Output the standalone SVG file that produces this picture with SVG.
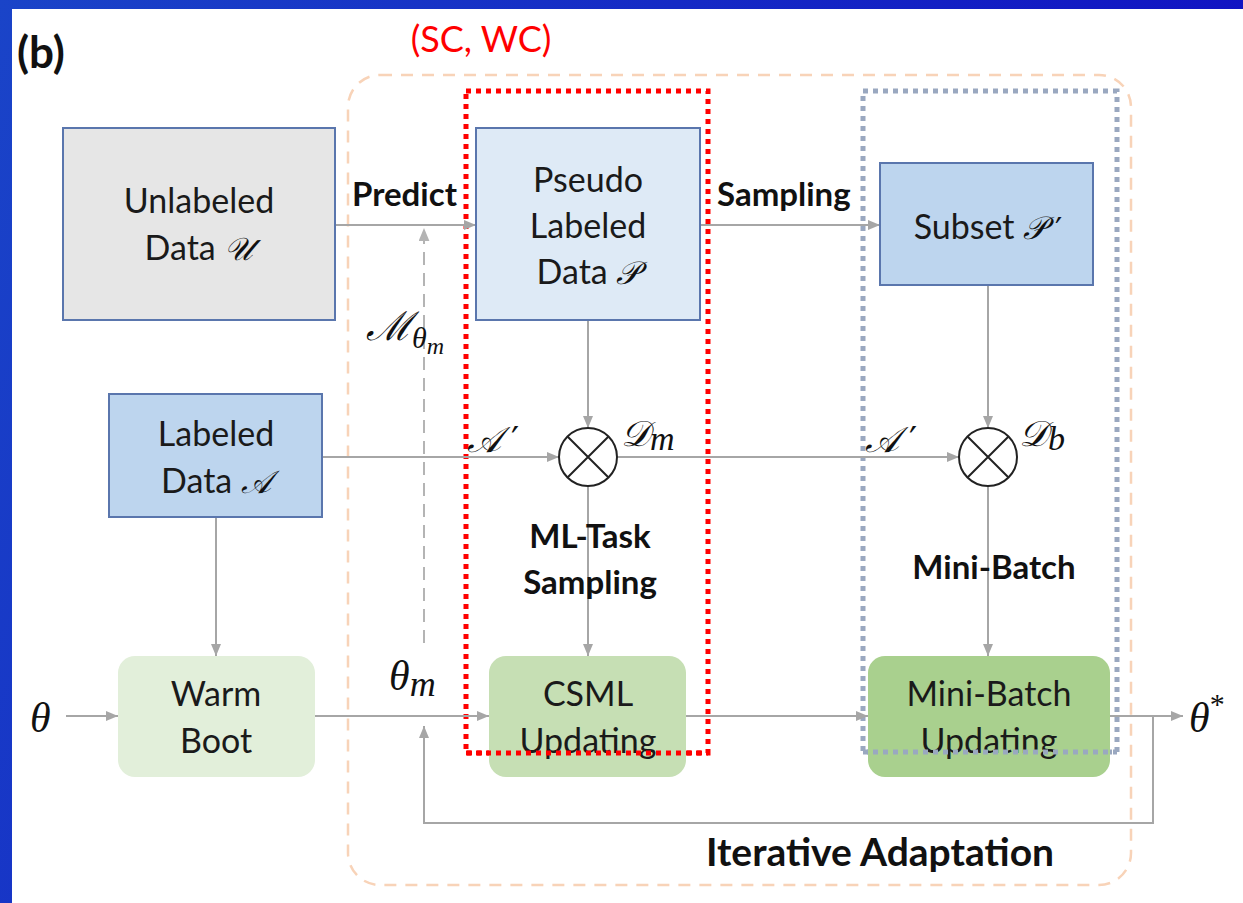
<svg xmlns="http://www.w3.org/2000/svg" width="1243" height="903" viewBox="0 0 1243 903">
  <defs>
    <linearGradient id="slideBg" x1="0" y1="0" x2="1" y2="0.3">
      <stop offset="0" stop-color="#1a44c8"/>
      <stop offset="1" stop-color="#1010c2"/>
    </linearGradient>
    <marker id="arrow" viewBox="0 0 12 10" refX="12" refY="5" markerWidth="12" markerHeight="10" markerUnits="userSpaceOnUse" orient="auto">
      <path d="M0,0 L12,5 L0,10 Z" fill="#a6a6a6"/>
    </marker>
    <marker id="arrowDash" viewBox="0 0 12 10" refX="12" refY="5" markerWidth="13" markerHeight="11" markerUnits="userSpaceOnUse" orient="auto">
      <path d="M0,0 L12,5 L0,10 Z" fill="#b4b4b4"/>
    </marker>
  </defs>
  <style>
    .lbl { font-family: Lato, "Open Sans", "Liberation Sans", sans-serif; font-size: 34px; fill: #1a1a1a; text-anchor: middle; }
    .bold { font-family: Lato, "Open Sans", "Liberation Sans", sans-serif; font-weight: bold; font-size: 33px; fill: #111; }
    .math { font-family: "DejaVu Serif", "Liberation Serif", serif; font-style: italic; font-size: 36px; fill: #111; }
    .prime { font-family: "DejaVu Sans", "Liberation Serif", sans-serif; font-style: normal; font-size: 36px; fill: #111; }
    .greek { font-family: "Liberation Serif", "DejaVu Serif", serif; font-style: italic; font-size: 42px; fill: #111; }
    .sub { font-family: "Liberation Serif", "DejaVu Serif", serif; font-style: italic; font-size: 28px; fill: #111; }
    .box { stroke: #5a76ad; stroke-width: 2; }
    .wire { fill: none; stroke: #a6a6a6; stroke-width: 2; }
    .mix { fill: #fff; stroke: #222; stroke-width: 2; }
  </style>

  <!-- slide background with white canvas -->
  <rect x="0" y="0" width="1243" height="903" fill="url(#slideBg)"/>
  <rect x="12" y="9" width="1231" height="894" fill="#ffffff"/>

  <text x="17" y="68" font-family="Lato, 'Liberation Sans', sans-serif" font-weight="bold" font-size="44" fill="#111">(b)</text>
  <text x="481" y="52" font-family="Lato, 'Liberation Sans', sans-serif" font-size="36" fill="#ff0000" text-anchor="middle">(SC, WC)</text>

  <!-- region frames -->
  <g id="iterative-adaptation">
    <rect x="348" y="75" width="783" height="810" rx="32" fill="none" stroke="#f8d3b8" stroke-width="2.5" stroke-dasharray="12 9"/>
    <text x="880" y="866" class="bold" style="font-size:39px" text-anchor="middle">Iterative Adaptation</text>
  </g>
  <g id="red-frame">
    <rect x="466" y="91" width="242" height="662" fill="none" stroke="#ff0000" stroke-width="5" stroke-dasharray="5 5"/>
  </g>
  <g id="gray-frame">
    <rect x="863" y="91" width="254" height="661" fill="none" stroke="#9aa8c0" stroke-width="5" stroke-dasharray="5 5"/>
  </g>

  <!-- connectors -->
  <g id="connectors">
    <line class="wire" x1="335" y1="225" x2="476" y2="225" marker-end="url(#arrow)"/>
    <line class="wire" x1="700" y1="225" x2="880" y2="225" marker-end="url(#arrow)"/>
    <line class="wire" x1="588" y1="320" x2="588" y2="428" marker-end="url(#arrow)"/>
    <line class="wire" x1="988" y1="285" x2="988" y2="428" marker-end="url(#arrow)"/>
    <line class="wire" x1="322" y1="457" x2="559" y2="457" marker-end="url(#arrow)"/>
    <line class="wire" x1="617" y1="457" x2="959" y2="457" marker-end="url(#arrow)"/>
    <line class="wire" x1="588" y1="486" x2="588" y2="656" marker-end="url(#arrow)"/>
    <line class="wire" x1="988" y1="486" x2="988" y2="656" marker-end="url(#arrow)"/>
    <line class="wire" x1="216" y1="517" x2="216" y2="656" marker-end="url(#arrow)"/>
    <line class="wire" x1="66" y1="716" x2="118" y2="716" marker-end="url(#arrow)"/>
    <line class="wire" x1="315" y1="716" x2="489" y2="716" marker-end="url(#arrow)"/>
    <line class="wire" x1="686" y1="716" x2="868" y2="716" marker-end="url(#arrow)"/>
    <line class="wire" x1="1110" y1="716" x2="1183" y2="716" marker-end="url(#arrow)"/>
    <polyline class="wire" points="1153,716 1153,823 424,823 424,726" marker-end="url(#arrow)"/>
    <line x1="424" y1="643" x2="424" y2="228" fill="none" stroke="#b4b4b4" stroke-width="2" stroke-dasharray="13 8" marker-end="url(#arrowDash)"/>
  </g>

  <!-- connector labels -->
  <text x="352" y="206" class="bold">Predict</text>
  <text x="717" y="206" class="bold">Sampling</text>
  <text x="366" y="340" class="math" style="font-size:40px">ℳ<tspan class="sub" style="font-size:30px" dy="8">θ</tspan><tspan class="sub" style="font-size:24px" dy="6">m</tspan></text>
  <text x="467" y="452" class="math">𝒜</text>
  <text x="511" y="452" class="prime">′</text>
  <text x="865" y="452" class="math">𝒜</text>
  <text x="909" y="452" class="prime">′</text>
  <text x="621" y="446" class="math">𝒟<tspan class="sub" style="font-size:34px" dy="4">m</tspan></text>
  <text x="1019" y="446" class="math">𝒟<tspan class="sub" style="font-size:34px" dy="4">b</tspan></text>
  <text x="590" y="548" class="bold" text-anchor="middle">ML-Task</text>
  <text x="590" y="594" class="bold" text-anchor="middle">Sampling</text>
  <text x="994" y="579" class="bold" text-anchor="middle">Mini-Batch</text>
  <text x="389" y="690" class="greek">θ<tspan class="sub" style="font-size:36px" dy="6">m</tspan></text>
  <text x="30" y="732" class="greek">θ</text>
  <text x="1189" y="732" class="greek">θ<tspan style="font-size:30px;font-style:normal" dy="-18">*</tspan></text>

  <!-- nodes -->
  <g id="unlabeled-data">
    <rect class="box" x="63" y="128" width="272" height="192" fill="#e6e6e6"/>
    <text class="lbl" x="199" y="213">Unlabeled</text>
    <text class="lbl" x="199" y="260">Data <tspan class="math" style="font-size:32px">𝒰</tspan></text>
  </g>
  <g id="pseudo-labeled-data">
    <rect class="box" x="476" y="128" width="224" height="192" fill="#deeaf6"/>
    <text class="lbl" x="588" y="192">Pseudo</text>
    <text class="lbl" x="588" y="238">Labeled</text>
    <text class="lbl" x="588" y="284">Data <tspan class="math" style="font-size:32px">𝒫</tspan></text>
  </g>
  <g id="subset-p">
    <rect class="box" x="880" y="163" width="213" height="122" fill="#bdd5ee"/>
    <text class="lbl" x="980" y="239">Subset <tspan class="math" style="font-size:32px">𝒫</tspan></text>
    <text x="1055" y="240" class="prime" style="font-size:32px">′</text>
  </g>
  <g id="labeled-data">
    <rect class="box" x="109" y="394" width="213" height="123" fill="#bdd5ee"/>
    <text class="lbl" x="216" y="446">Labeled</text>
    <text class="lbl" x="216" y="493">Data <tspan class="math" style="font-size:32px">𝒜</tspan></text>
  </g>
  <g id="mix-dm">
    <circle class="mix" cx="588" cy="457" r="29"/>
    <path d="M567.5,436.5 L608.5,477.5 M608.5,436.5 L567.5,477.5" stroke="#222" stroke-width="2"/>
  </g>
  <g id="mix-db">
    <circle class="mix" cx="988" cy="457" r="29"/>
    <path d="M967.5,436.5 L1008.5,477.5 M1008.5,436.5 L967.5,477.5" stroke="#222" stroke-width="2"/>
  </g>
  <g id="warm-boot">
    <rect x="118" y="656" width="197" height="121" rx="17" fill="#e2efda"/>
    <text class="lbl" x="216" y="706">Warm</text>
    <text class="lbl" x="216" y="753">Boot</text>
  </g>
  <g id="csml-updating">
    <rect x="489" y="656" width="197" height="121" rx="17" fill="#c6dfb4"/>
    <text class="lbl" x="588" y="706">CSML</text>
    <text class="lbl" x="588" y="753">Updating</text>
  </g>
  <g id="mini-batch-updating">
    <rect x="868" y="656" width="242" height="121" rx="17" fill="#a9d08e"/>
    <text class="lbl" x="989" y="706">Mini-Batch</text>
    <text class="lbl" x="989" y="753">Updating</text>
  </g>

  <!-- frame bottoms sit above the update boxes -->
  <line x1="466" y1="753" x2="708" y2="753" stroke="#ff0000" stroke-width="5" stroke-dasharray="5 5"/>
  <line x1="863" y1="752" x2="1117" y2="752" stroke="#9aa8c0" stroke-width="5" stroke-dasharray="5 5"/>
</svg>
